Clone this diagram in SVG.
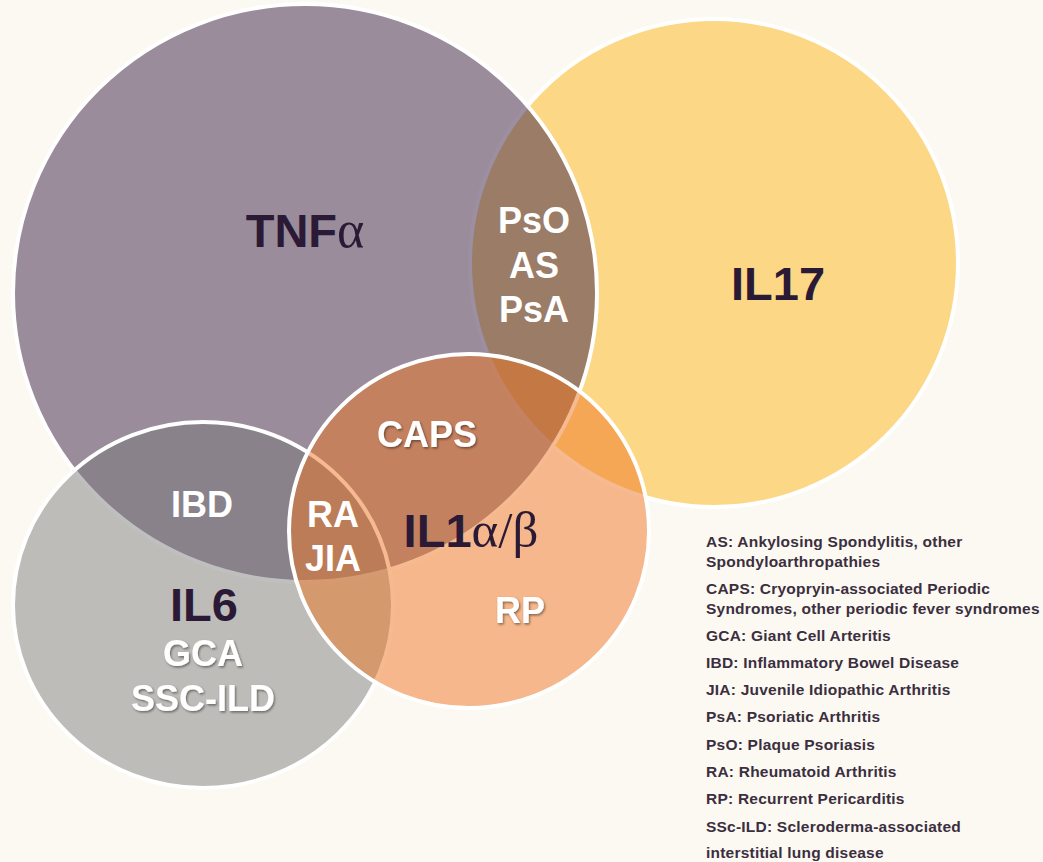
<svg xmlns="http://www.w3.org/2000/svg" width="1043" height="862" viewBox="0 0 1043 862">
<defs>
<style>
.circ{stroke:#ffffff;stroke-width:4}
.big{font-family:"Liberation Sans",Arial,sans-serif;font-weight:bold;font-size:47px;fill:#2a1a35;text-anchor:middle}
.greek{font-family:"Liberation Serif","Times New Roman",serif;font-weight:normal}
.lab{font-family:"Liberation Sans",Arial,sans-serif;font-weight:bold;font-size:36px;fill:#ffffff;text-anchor:middle}
.sh{filter:url(#shadow)}
.leg{font-family:"Liberation Sans",Arial,sans-serif;font-weight:bold;font-size:15.5px;letter-spacing:0.22px;fill:#3b2f3f}
</style>
<filter id="shadow" x="-20%" y="-30%" width="140%" height="160%">
<feDropShadow dx="1.2" dy="1.5" stdDeviation="1" flood-color="#000000" flood-opacity="0.45"/>
</filter>
</defs>
<rect x="0" y="0" width="1043" height="862" fill="#fcf9f2"/>
<g id="node-il17">
<ellipse class="circ" cx="714" cy="263" rx="244" ry="244" fill="#fcd886"/>
<text class="big" x="778" y="300">IL17</text>
</g>
<g id="node-tnf">
<ellipse class="circ" cx="305" cy="293" rx="292" ry="289" fill="rgb(64,41,75)" fill-opacity="0.52"/>
<text class="big" x="305" y="247">TNF<tspan class="greek" font-size="52px">α</tspan></text>
</g>
<g id="node-il6">
<ellipse class="circ" cx="203" cy="605" rx="190" ry="183" fill="rgb(118,119,118)" fill-opacity="0.47"/>
<text class="big" x="204" y="621">IL6</text>
<text class="lab sh" x="203" y="666">GCA</text>
<text class="lab sh" x="203" y="711" font-size="37px">SSC-ILD</text>
</g>
<g id="node-il1">
<ellipse class="circ" cx="469" cy="531" rx="180" ry="177" fill="rgb(238,117,36)" fill-opacity="0.5"/>
<text class="big" x="471" y="547">IL1<tspan class="greek" font-size="51px">α/β</tspan></text>
<text class="lab sh" x="520" y="623" font-size="35px">RP</text>
</g>
<g id="overlap-labels">
<text class="lab" x="534" y="233">PsO</text>
<text class="lab" x="534" y="278">AS</text>
<text class="lab" x="534" y="322">PsA</text>
<text class="lab sh" x="427" y="447">CAPS</text>
<text class="lab" x="333" y="527" font-size="35px">RA</text>
<text class="lab" x="333" y="571" font-size="35px">JIA</text>
<text class="lab" x="202" y="517">IBD</text>
</g>
<g id="legend">
<text class="leg" x="706" y="547">AS: Ankylosing Spondylitis, other</text>
<text class="leg" x="706" y="567">Spondyloarthropathies</text>
<text class="leg" x="706" y="594">CAPS: Cryopryin-associated Periodic</text>
<text class="leg" x="706" y="614">Syndromes, other periodic fever syndromes</text>
<text class="leg" x="706" y="641">GCA: Giant Cell Arteritis</text>
<text class="leg" x="706" y="668">IBD: Inflammatory Bowel Disease</text>
<text class="leg" x="706" y="695">JIA: Juvenile Idiopathic Arthritis</text>
<text class="leg" x="706" y="722">PsA: Psoriatic Arthritis</text>
<text class="leg" x="706" y="750">PsO: Plaque Psoriasis</text>
<text class="leg" x="706" y="777">RA: Rheumatoid Arthritis</text>
<text class="leg" x="706" y="804">RP: Recurrent Pericarditis</text>
<text class="leg" x="706" y="832">SSc-ILD: Scleroderma-associated</text>
<text class="leg" x="706" y="858">interstitial lung disease</text>
</g>
</svg>
